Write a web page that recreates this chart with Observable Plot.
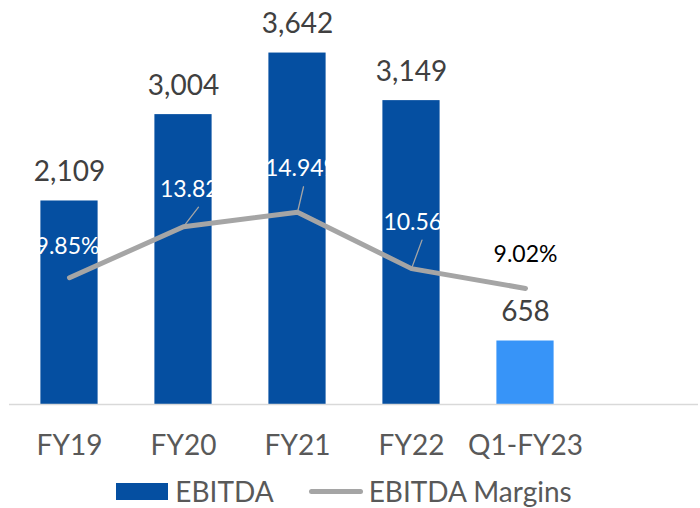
<!DOCTYPE html>
<html>
<head>
<meta charset="utf-8">
<script src="https://cdn.jsdelivr.net/npm/d3@7"></script>
<script src="https://cdn.jsdelivr.net/npm/@observablehq/plot@0.6"></script>
<style>
  html, body { margin: 0; padding: 0; background: #fff; }
  #wrap { width: 700px; height: 508px; overflow: hidden; font-family: Lato, "Open Sans", sans-serif; }
  #legend { height: 36px; box-sizing: border-box; padding-top: 2px; padding-right: 12px;
    display: flex; justify-content: center; align-items: center; color: #595959; font-size: 28px; }
  #legend .sw { width: 52px; height: 17px; background: #054FA1; margin-right: 7px; }
  #legend .ln { width: 54px; height: 5px; border-radius: 3px; background: #A5A5A5; margin-left: 35px; margin-right: 6px; }
</style>
</head>
<body>
<div id="wrap"><div id="chart"></div>
<div id="legend"><span class="sw"></span><span>EBITDA</span><span class="ln"></span><span>EBITDA Margins</span></div>
</div>
<script>
// ---- data ----
const periods = ["FY19", "FY20", "FY21", "FY22", "Q1-FY23"];
const ebitda = [2109, 3004, 3642, 3149, 658];
const margins = [9.85, 13.82, 14.94, 10.56, 9.02];
const marginLabels = ["9.85%", "13.82%", "14.94%", "10.56%", "9.02%"];
// label nudges (pixels) for the margin labels, as placed in the original
const labelDx = [-2, 15, 6, 10.5, 0];
const labelDy = [-24, -30, -36, -39, -26];

// scales: primary axis 0..4000, secondary (margin %) axis 0..30
const primaryMax = 4000;
const secondaryMax = 30;
const toPrimary = m => m * primaryMax / secondaryMax;

const rows = periods.map((p, i) => ({
  period: p, ebitda: ebitda[i], margin: margins[i], label: marginLabels[i],
  dx: labelDx[i], dy: labelDy[i], quarter: p.startsWith("Q")
}));

const dark = "#054FA1", light = "#3794F8", gray = "#A5A5A5";
const fmt = d3.format(",");

const leaders = rows.filter(r => Math.abs(r.dx) > 3).map(r => {
  const ex = r.dx, ey = r.dy + 10.5;
  return {...r, len: Math.hypot(ex, ey), rot: Math.atan2(ex, -ey) * 180 / Math.PI};
});

const chart = Plot.plot({
  width: 700,
  height: 472,
  marginLeft: 9,
  marginRight: 2,
  marginTop: 18,
  marginBottom: 68,
  style: {fontFamily: "Lato, 'Open Sans', sans-serif", background: "#fff", overflow: "visible"},
  x: {domain: [...periods, ""], padding: 0, label: null},
  y: {domain: [0, primaryMax], axis: null},
  length: {type: "identity"},
  marks: [
    Plot.barY(rows, {x: "period", y: "ebitda", fill: d => d.quarter ? light : dark, insetLeft: 28.4, insetRight: 28.4}),
    Plot.ruleY([0], {stroke: "#D9D9D9", strokeWidth: 1.5}),
    Plot.axisX({ticks: periods, tickSize: 0, tickPadding: 31, fontSize: 28, color: "#595959", label: null}),
    Plot.text(rows, {x: "period", y: "ebitda", text: d => fmt(d.ebitda), dy: -29, fontSize: 28, fill: "#404040"}),
    Plot.vector(leaders, {
      x: "period", y: d => toPrimary(d.margin), length: "len", rotate: "rot", anchor: "start",
      shape: {draw(context, l) { context.moveTo(0, 0); context.lineTo(0, -l); }},
      stroke: gray, strokeWidth: 1.3, fill: "none"
    }),
    Plot.line(rows, {x: "period", y: d => toPrimary(d.margin), stroke: gray, strokeWidth: 5,
      strokeLinecap: "round", strokeLinejoin: "round"}),
    ...rows.map(r => Plot.text([r], {
      x: "period", y: d => toPrimary(d.margin), text: "label",
      dx: r.dx, dy: r.dy - 0.32 * 23, fontSize: 23, fill: r.quarter ? "#000" : "#fff"
    }))
  ]
});
document.getElementById("chart").appendChild(chart);
</script>
</body>
</html>
